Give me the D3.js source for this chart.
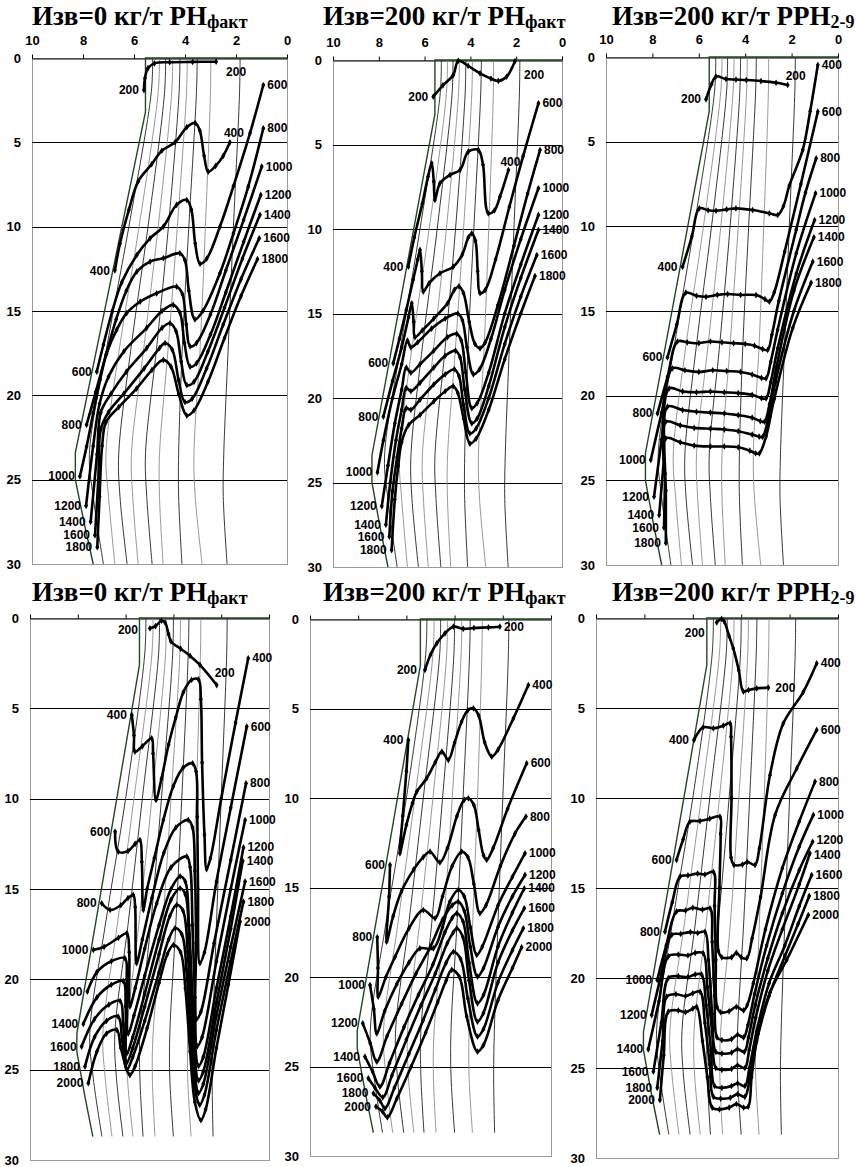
<!DOCTYPE html>
<html lang="ru">
<head>
<meta charset="UTF-8">
<title>Изв</title>
<style>
  body { margin: 0; background: #fff; }
  svg { display: block; }
  .ax { font-family: "Liberation Sans", Arial, sans-serif; font-weight: bold; font-size: 13px; }
  .lab { font-family: "Liberation Sans", Arial, sans-serif; font-weight: bold; font-size: 12px; }
  .ttl { font-family: "Liberation Serif", "Times New Roman", serif; font-weight: bold; font-size: 27px; }
</style>
</head>
<body>
<script src="https://cdn.jsdelivr.net/npm/d3@7"></script>
<script>
const W = 856, H = 1167;

const xTicks = [10, 8, 6, 4, 2, 0];
const yTicks = [0, 5, 10, 15, 20, 25, 30];
const levelsTop = [200, 400, 600, 800, 1000, 1200, 1400, 1600, 1800];
const levelsBottom = [200, 400, 600, 800, 1000, 1200, 1400, 1600, 1800, 2000];
const titles = [
  ['Изв=0 кг/т РН', 'факт'], ['Изв=200 кг/т РН', 'факт'], ['Изв=200 кг/т РРН', '2-9'],
  ['Изв=0 кг/т РН', 'факт'], ['Изв=200 кг/т РН', 'факт'], ['Изв=200 кг/т РРН', '2-9']
];

// boundary of the field (green) and thin isolines, top and bottom rows
const envTop = [[0,0],[5.55,0],[5.55,3.2],[8.3,23.4],[8.3,25.0],[7.95,27.6],[7.6,30]];
const envBottom = [[0,0],[5.42,0],[5.42,2.6],[8.04,23.0],[8.04,24.0],[7.7,26.5],[7.37,28.7]];
const isoDepthTop = [0, 2, 10, 17, 23.5, 26, 30];
const isoTop = [
  [5.27, 5.32, 6.2, 7.05, 7.75, 7.6, 7.2],
  [5.0, 5.05, 5.8, 6.55, 7.1, 7.0, 6.75],
  [4.76, 4.8, 5.45, 6.1, 6.6, 6.55, 6.27],
  [4.48, 4.52, 5.05, 5.6, 6.1, 6.05, 5.84],
  [4.2, 4.23, 4.65, 5.1, 5.55, 5.5, 5.29],
  [3.91, 3.94, 4.3, 4.65, 5.0, 5.0, 4.86],
  [3.52, 3.55, 3.85, 4.1, 4.25, 4.25, 4.12],
  [2.99, 3.0, 3.2, 3.4, 3.65, 3.6, 3.33],
  [1.84, 1.86, 2.1, 2.3, 2.48, 2.5, 2.35]
];
const isoDepthBottom = [0, 2, 10, 17, 23, 25.5, 28.7];
const isoBottom = [
  [5.15, 5.2, 6.0, 6.85, 7.5, 7.35, 6.99],
  [4.85, 4.9, 5.65, 6.35, 6.95, 6.85, 6.57],
  [4.58, 4.62, 5.3, 5.9, 6.45, 6.38, 6.11],
  [4.3, 4.33, 4.9, 5.45, 5.95, 5.92, 5.69],
  [4.0, 4.03, 4.5, 4.95, 5.4, 5.4, 5.27],
  [3.7, 3.73, 4.1, 4.45, 4.85, 4.88, 4.77],
  [3.35, 3.38, 3.65, 3.9, 4.15, 4.15, 4.0],
  [2.85, 2.87, 3.05, 3.25, 3.4, 3.4, 3.26],
  [1.75, 1.77, 2.0, 2.2, 2.35, 2.38, 2.34]
];

// thick curves, [x, depth] points, one array per level
const curvesA = [
  [[5.61,1.9],[5.57,1.2],[5.45,0.6],[5.2,0.32],[4.6,0.25],[3.7,0.23],[2.78,0.22]],
  [[6.75,12.6],[6.55,11.0],[6.2,9.0],[5.83,7.3],[5.31,6.3],[4.91,5.5],[4.39,5.0],[3.93,4.1],[3.6,3.85],[3.42,4.3],[3.25,5.8],[3.09,6.74],[2.8,6.4],[2.5,5.8],[2.24,5.0]],
  [[7.46,18.6],[7.2,17.0],[6.85,15.0],[6.48,13.3],[5.89,11.68],[5.37,10.69],[4.85,10.0],[4.33,8.71],[3.93,8.42],[3.75,9.0],[3.6,11.0],[3.41,12.2],[3.15,11.9],[2.63,10.0],[2.1,7.6],[1.45,4.46],[0.93,1.6]],
  [[7.86,21.75],[7.5,19.8],[7.1,17.6],[6.7,15.5],[6.3,13.8],[5.89,12.67],[5.37,12.07],[4.85,11.87],[4.2,11.58],[4.0,12.0],[3.85,13.8],[3.61,15.5],[3.3,15.0],[2.63,12.76],[2.1,10.4],[1.52,7.63],[0.93,4.17]],
  [[8.12,24.8],[7.86,23.04],[7.6,21.06],[7.33,19.09],[7.07,17.5],[6.68,16.12],[6.29,15.13],[5.76,14.45],[5.11,13.95],[4.33,13.56],[4.1,14.0],[3.95,15.8],[3.8,17.1],[3.55,16.9],[3.0,15.2],[2.4,12.6],[1.7,9.6],[0.99,6.44]],
  [[7.88,26.55],[7.6,23.0],[7.35,20.5],[7.0,18.9],[6.4,17.4],[5.5,16.0],[4.9,15.0],[4.46,14.64],[4.2,15.1],[4.02,16.9],[3.8,18.3],[3.55,18.1],[3.0,16.4],[2.4,13.9],[1.7,10.9],[1.03,8.12]],
  [[7.7,27.5],[7.45,23.5],[7.3,21.0],[6.9,19.9],[6.3,18.6],[5.5,17.2],[4.9,16.0],[4.59,15.73],[4.35,16.2],[4.15,18.0],[3.93,19.4],[3.65,19.2],[3.1,17.4],[2.45,14.8],[1.75,11.9],[1.06,9.3]],
  [[7.53,28.3],[7.4,25.0],[7.3,22.0],[7.0,21.0],[6.4,19.9],[5.6,18.4],[5.0,17.2],[4.78,16.9],[4.5,17.3],[4.25,19.1],[4.0,20.4],[3.72,20.2],[3.15,18.4],[2.5,15.8],[1.8,13.1],[1.09,10.69]],
  [[7.44,29.0],[7.35,26.0],[7.25,23.0],[7.1,21.6],[6.6,20.7],[5.9,19.6],[5.3,18.5],[4.85,17.9],[4.55,18.3],[4.25,19.9],[3.93,21.2],[3.65,20.9],[3.1,19.2],[2.45,16.6],[1.8,14.1],[1.16,11.93]]
];
const curvesB = [
  [[5.62,2.17],[5.2,1.5],[4.75,0.89],[4.53,0.05],[4.1,0.35],[3.58,0.79],[3.1,1.1],[2.78,1.24],[2.42,0.99],[2.05,0.06]],
  [[6.71,12.23],[6.45,10.5],[6.1,8.5],[5.85,6.9],[5.69,6.11],[5.6,7.2],[5.55,8.28],[5.33,7.3],[4.89,6.8],[4.45,6.5],[4.09,5.42],[3.65,5.33],[3.45,6.2],[3.22,9.07],[2.95,8.9],[2.71,8.09],[2.34,6.51]],
  [[7.37,17.95],[7.1,16.5],[6.8,14.8],[6.5,13.0],[6.3,11.8],[6.2,11.24],[6.12,12.5],[6.06,13.7],[5.8,13.2],[5.33,12.62],[4.75,12.23],[4.35,11.5],[4.09,10.5],[3.94,10.26],[3.78,10.7],[3.68,12.5],[3.58,13.8],[3.35,13.6],[2.9,11.8],[2.3,8.7],[1.7,5.7],[1.03,2.56]],
  [[7.8,21.1],[7.4,19.0],[7.0,17.0],[6.7,15.2],[6.56,14.4],[6.48,15.5],[6.42,16.4],[6.1,16.0],[5.6,15.3],[5.0,14.4],[4.7,13.6],[4.5,13.4],[4.3,13.8],[4.05,15.5],[3.8,16.8],[3.58,17.06],[3.35,16.7],[2.8,14.5],[2.1,11.0],[1.5,7.9],[0.96,5.33]],
  [[8.06,24.4],[7.8,22.5],[7.4,20.0],[7.0,18.0],[6.75,16.6],[6.6,17.0],[6.3,16.7],[5.7,15.9],[5.1,15.3],[4.55,15.0],[4.35,15.4],[4.15,17.0],[3.87,18.6],[3.6,18.3],[3.1,16.5],[2.5,13.6],[1.8,10.6],[1.03,7.59]],
  [[7.87,26.4],[7.6,24.0],[7.3,21.5],[7.0,19.5],[6.8,18.2],[6.6,18.5],[6.2,18.0],[5.6,17.2],[5.0,16.4],[4.6,16.2],[4.4,16.6],[4.2,18.5],[3.94,20.6],[3.7,20.3],[3.2,18.5],[2.5,15.0],[1.8,12.1],[1.03,9.17]],
  [[7.69,27.5],[7.5,25.0],[7.25,22.5],[7.0,20.7],[6.8,19.4],[6.6,19.6],[6.2,19.1],[5.6,18.2],[5.1,17.5],[4.65,17.2],[4.45,17.6],[4.25,19.5],[3.94,21.5],[3.7,21.2],[3.2,19.3],[2.5,15.8],[1.8,12.9],[1.03,10.06]],
  [[7.54,28.2],[7.4,25.5],[7.2,23.5],[7.0,21.8],[6.8,20.6],[6.6,20.7],[6.2,20.1],[5.6,19.2],[5.1,18.6],[4.7,18.3],[4.5,18.7],[4.3,20.4],[4.02,22.1],[3.75,21.8],[3.2,20.0],[2.5,16.8],[1.8,14.0],[1.1,11.54]],
  [[7.44,29.0],[7.3,26.0],[7.15,24.0],[7.0,22.6],[6.7,21.6],[6.2,21.0],[5.6,20.2],[5.1,19.6],[4.75,19.3],[4.55,19.7],[4.3,21.2],[4.02,22.7],[3.75,22.4],[3.2,20.7],[2.5,17.7],[1.8,15.0],[1.18,12.78]]
];
const curvesC = [
  [[5.69,2.5],[5.45,1.6],[5.26,1.15],[4.83,1.3],[4.4,1.33],[3.95,1.36],[3.32,1.42],[2.67,1.52],[2.17,1.65]],
  [[6.7,12.39],[6.3,10.6],[5.98,8.94],[5.6,9.05],[5.26,9.08],[4.8,9.0],[4.4,8.94],[3.68,9.04],[2.96,9.23],[2.6,9.33],[2.35,8.8],[2.1,7.6],[1.52,5.49],[1.2,3.2],[0.87,0.47]],
  [[7.35,17.74],[6.95,15.8],[6.56,13.92],[6.1,14.1],[5.69,14.16],[5.2,14.05],[4.76,14.0],[4.2,14.05],[3.53,14.06],[3.15,14.3],[2.96,14.45],[2.75,13.9],[2.3,11.5],[1.6,7.5],[0.87,3.23]],
  [[7.78,21.05],[7.35,18.9],[6.92,16.8],[6.5,16.85],[6.0,16.9],[5.5,16.8],[5.0,16.85],[4.5,16.9],[4.0,16.95],[3.6,17.05],[3.25,17.25],[3.03,17.3],[2.85,16.4],[2.55,14.4],[1.8,10.2],[1.4,8.0],[0.94,5.98]],
  [[8.07,23.8],[7.6,21.0],[7.14,18.39],[6.6,18.5],[6.0,18.6],[5.4,18.5],[4.8,18.55],[4.2,18.6],[3.7,18.75],[3.3,18.95],[3.1,18.98],[2.9,18.0],[2.6,16.1],[1.8,11.6],[0.97,8.05]],
  [[7.93,25.97],[7.6,22.6],[7.28,19.57],[6.7,19.75],[6.1,19.8],[5.5,19.75],[4.9,19.8],[4.3,19.85],[3.7,19.95],[3.3,20.15],[3.1,20.16],[2.9,19.2],[2.6,17.2],[1.8,12.8],[1.01,9.63]],
  [[7.71,27.05],[7.5,23.7],[7.35,20.65],[6.7,20.85],[6.1,20.95],[5.5,21.0],[4.9,21.05],[4.3,21.15],[3.7,21.3],[3.35,21.5],[3.17,21.54],[2.95,20.5],[2.65,18.3],[1.9,13.8],[1.04,10.65]],
  [[7.5,27.8],[7.45,24.6],[7.42,21.54],[6.8,21.75],[6.2,21.9],[5.5,21.95],[4.9,22.0],[4.3,22.1],[3.7,22.3],[3.4,22.42],[3.25,22.43],[3.0,21.3],[2.7,19.2],[1.9,15.0],[1.09,12.09]],
  [[7.42,28.7],[7.42,25.6],[7.42,22.52],[6.8,22.75],[6.2,22.95],[5.5,23.0],[4.9,23.0],[4.3,23.05],[3.8,23.25],[3.55,23.4],[3.39,23.41],[3.1,22.4],[2.75,20.2],[1.95,16.0],[1.16,13.33]]
];
const curvesD = [
  [[4.98,0.57],[4.75,0.45],[4.5,0.15],[4.35,0.25],[4.2,0.9],[4.1,1.3],[3.7,1.7],[3.3,2.1],[2.89,2.6],[2.19,3.71]],
  [[5.74,5.37],[5.65,6.5],[5.61,7.4],[5.3,7.1],[4.91,6.66],[4.85,7.5],[4.73,10.07],[4.5,8.9],[4.2,7.0],[3.9,5.5],[3.58,4.1],[3.24,3.43],[2.95,3.4],[2.85,4.5],[2.8,8.0],[2.7,12.0],[2.61,13.9],[2.45,13.3],[2.0,10.0],[1.4,5.8],[0.87,2.23]],
  [[6.44,11.83],[6.31,12.93],[5.9,12.9],[5.6,12.5],[5.4,12.29],[5.32,13.5],[5.26,16.16],[5.1,15.0],[4.8,13.3],[4.42,11.18],[4.0,9.3],[3.6,8.3],[3.2,8.04],[3.05,8.5],[3.0,11.0],[2.97,15.0],[2.89,19.1],[2.7,18.5],[2.2,14.6],[1.6,10.5],[0.93,6.01]],
  [[7.0,15.79],[6.65,16.16],[6.2,15.9],[5.9,15.5],[5.68,15.33],[5.6,16.0],[5.54,19.1],[5.3,17.8],[4.9,15.5],[4.4,13.0],[3.9,11.6],[3.38,11.18],[3.2,11.6],[3.1,14.0],[3.05,18.0],[3.03,22.2],[2.85,21.8],[2.3,18.0],[1.6,13.4],[0.96,9.15]],
  [[7.35,18.37],[6.9,18.2],[6.3,17.7],[5.95,17.45],[5.85,18.5],[5.82,21.5],[5.6,20.5],[5.2,18.3],[4.7,15.8],[4.1,13.8],[3.44,13.2],[3.3,13.8],[3.2,17.0],[3.1,21.0],[3.0,23.7],[2.8,23.2],[2.2,19.0],[1.6,15.0],[1.0,11.18]],
  [[7.6,20.68],[7.2,19.6],[6.6,19.0],[6.03,18.83],[5.95,20.0],[5.89,23.0],[5.65,22.0],[5.2,19.8],[4.6,17.0],[4.1,15.0],[3.72,14.3],[3.5,14.6],[3.35,17.0],[3.2,21.0],[3.1,23.5],[2.95,24.8],[2.75,24.3],[2.2,20.5],[1.6,16.5],[1.07,12.7]],
  [[7.77,22.47],[7.2,21.0],[6.6,20.3],[6.1,20.1],[6.0,21.5],[5.95,24.1],[5.7,23.2],[5.2,20.8],[4.6,17.8],[4.1,15.6],[3.72,14.96],[3.5,15.3],[3.35,17.5],[3.2,22.0],[3.1,24.5],[2.95,25.6],[2.75,25.1],[2.2,21.3],[1.6,17.2],[1.1,13.45]],
  [[7.84,23.72],[7.3,22.2],[6.7,21.4],[6.23,21.2],[6.1,22.5],[5.95,24.6],[5.7,23.8],[5.2,21.5],[4.6,18.6],[4.15,16.5],[3.86,15.88],[3.6,16.2],[3.4,18.5],[3.25,22.5],[3.1,25.3],[2.95,26.3],[2.75,25.8],[2.2,22.0],[1.6,18.2],[1.0,14.59]],
  [[7.7,24.83],[7.3,23.2],[6.8,22.3],[6.31,22.06],[6.15,23.3],[5.95,25.0],[5.7,24.3],[5.2,22.3],[4.6,19.6],[4.2,17.8],[3.93,17.17],[3.65,17.5],[3.45,19.5],[3.3,23.0],[3.1,26.0],[2.9,26.95],[2.7,26.4],[2.2,22.8],[1.6,19.0],[1.07,15.7]],
  [[7.56,25.75],[7.2,24.0],[6.8,23.0],[6.37,22.8],[6.2,23.8],[5.82,25.3],[5.6,24.8],[5.1,22.7],[4.6,20.2],[4.25,18.6],[4.0,18.1],[3.7,18.5],[3.5,20.5],[3.3,24.0],[3.1,26.8],[2.85,27.8],[2.65,27.2],[2.2,23.8],[1.7,20.3],[1.21,16.8]]
];
const curvesE = [
  [[5.23,2.85],[5.0,2.0],[4.74,1.36],[4.4,0.8],[4.05,0.43],[3.64,0.55],[3.2,0.5],[2.6,0.47],[2.12,0.43]],
  [[5.92,6.76],[6.0,8.5],[6.15,11.0],[6.27,13.09],[6.0,11.5],[5.75,10.3],[5.57,9.65],[5.16,8.9],[4.8,8.0],[4.53,7.41],[4.26,7.88],[4.0,6.9],[3.71,5.74],[3.45,5.1],[3.22,4.99],[3.0,5.4],[2.75,6.9],[2.46,7.69],[2.2,7.3],[1.56,5.55],[0.94,3.69]],
  [[6.68,13.74],[6.72,15.5],[6.82,18.03],[6.55,16.6],[6.2,15.2],[5.7,14.0],[5.3,13.3],[5.02,13.0],[4.61,13.6],[4.3,12.8],[3.9,11.0],[3.6,10.1],[3.43,10.02],[3.2,10.4],[3.0,11.8],[2.8,13.2],[2.67,13.46],[2.4,12.8],[1.8,10.6],[1.01,8.06]],
  [[7.21,17.78],[7.18,19.5],[7.17,21.1],[6.85,20.0],[6.47,18.87],[5.9,17.3],[5.3,16.26],[4.81,16.72],[4.5,15.5],[4.1,13.8],[3.71,13.0],[3.45,13.3],[3.2,14.8],[2.95,16.44],[2.7,16.0],[2.1,13.8],[1.5,12.0],[1.04,11.04]],
  [[7.51,20.45],[7.35,21.8],[7.23,23.15],[6.9,21.9],[6.4,20.4],[5.9,19.2],[5.44,18.4],[4.88,18.4],[4.5,17.2],[4.2,15.8],[3.85,15.14],[3.6,15.5],[3.35,17.2],[3.08,18.77],[2.85,18.3],[2.2,16.0],[1.6,14.4],[1.08,13.09]],
  [[7.81,22.59],[7.5,23.7],[7.23,24.73],[6.8,23.3],[6.2,21.5],[5.6,19.8],[5.0,18.3],[4.5,16.8],[4.1,16.0],[3.85,15.79],[3.6,16.3],[3.35,18.3],[3.05,19.98],[2.8,19.5],[2.2,17.2],[1.6,15.5],[1.08,14.3]],
  [[7.72,24.45],[7.4,25.3],[7.1,26.13],[6.7,24.8],[6.1,22.8],[5.5,21.0],[4.9,19.3],[4.4,17.5],[4.1,16.7],[3.91,16.44],[3.65,16.9],[3.4,19.2],[3.05,21.47],[2.8,21.0],[2.2,18.3],[1.6,16.4],[1.11,15.05]],
  [[7.58,25.66],[7.3,26.2],[6.98,26.72],[6.6,25.5],[6.0,23.5],[5.4,21.6],[4.8,19.8],[4.3,18.1],[4.05,17.5],[3.91,17.28],[3.65,17.8],[3.4,20.2],[3.05,22.5],[2.8,22.0],[2.2,19.2],[1.6,17.4],[1.11,16.16]],
  [[7.37,26.5],[7.1,26.9],[6.89,27.34],[6.5,26.2],[5.9,24.3],[5.3,22.4],[4.8,20.7],[4.35,19.2],[4.05,18.59],[3.75,19.0],[3.45,21.2],[3.05,23.33],[2.8,22.9],[2.2,20.3],[1.6,18.5],[1.15,17.28]],
  [[7.26,27.24],[7.0,27.5],[6.79,27.84],[6.4,26.8],[5.8,25.0],[5.2,23.1],[4.7,21.4],[4.35,20.2],[4.12,19.6],[3.8,20.0],[3.5,22.2],[3.05,24.17],[2.8,23.8],[2.2,21.3],[1.6,19.5],[1.22,18.34]]
];
const curvesF = [
  [[5.01,0.24],[4.81,0.05],[4.7,0.2],[4.5,1.0],[4.33,1.68],[4.1,2.9],[3.91,4.09],[3.7,4.0],[3.36,3.91],[2.88,3.87]],
  [[5.95,6.78],[5.57,6.07],[5.15,6.13],[4.74,5.98],[4.46,5.85],[4.42,6.6],[4.4,10.0],[4.42,13.3],[4.3,13.72],[3.95,13.7],[3.75,13.55],[3.43,13.72],[3.25,12.8],[2.81,8.72],[2.26,5.85],[1.43,4.1],[0.88,2.52]],
  [[6.67,13.44],[6.4,12.3],[6.12,11.32],[5.7,11.28],[5.3,11.15],[4.88,11.04],[4.85,12.0],[4.9,15.0],[4.94,18.5],[4.8,18.85],[4.4,18.85],[4.2,18.6],[4.0,18.85],[3.77,18.91],[3.55,17.8],[3.2,15.5],[2.6,10.94],[1.7,8.35],[0.88,6.22]],
  [[7.15,17.43],[6.85,15.8],[6.53,14.37],[6.2,14.3],[5.8,14.2],[5.5,14.25],[5.15,14.1],[5.1,16.0],[5.05,19.0],[5.0,21.6],[4.85,21.9],[4.5,21.85],[4.2,21.6],[3.9,21.8],[3.75,21.5],[3.5,20.3],[3.0,17.3],[2.3,13.9],[1.6,11.3],[0.95,9.09]],
  [[7.47,20.11],[7.1,18.2],[6.67,16.3],[6.3,16.25],[6.0,16.1],[5.6,16.2],[5.29,16.13],[5.2,18.0],[5.1,21.0],[5.0,23.3],[4.8,23.45],[4.4,23.4],[4.15,23.15],[3.9,23.3],[3.72,22.6],[3.45,20.9],[2.95,18.2],[2.3,15.3],[1.6,12.7],[1.02,10.94]],
  [[7.7,22.06],[7.3,19.8],[6.87,17.6],[6.5,17.55],[6.1,17.45],[5.8,17.5],[5.5,17.43],[5.35,19.0],[5.2,22.0],[5.05,24.1],[4.8,24.2],[4.4,24.15],[4.15,23.95],[3.87,24.1],[3.7,23.3],[3.42,21.5],[2.9,18.9],[2.3,16.4],[1.6,14.0],[1.05,12.43]],
  [[7.84,23.96],[7.4,21.3],[7.01,18.8],[6.6,18.7],[6.2,18.75],[5.9,18.6],[5.57,18.63],[5.4,20.5],[5.2,23.0],[5.05,25.0],[4.8,25.1],[4.4,25.05],[4.15,24.85],[3.85,25.0],[3.67,24.0],[3.4,22.2],[2.9,19.6],[2.3,17.3],[1.6,14.8],[1.16,13.07]],
  [[7.63,25.2],[7.3,22.5],[7.01,20.0],[6.6,19.9],[6.2,19.95],[5.9,19.8],[5.64,19.8],[5.45,21.5],[5.25,24.0],[5.1,26.0],[4.8,26.1],[4.4,26.0],[4.15,25.85],[3.85,26.0],[3.66,25.0],[3.37,23.0],[2.85,20.3],[2.2,18.2],[1.6,16.0],[1.09,14.28]],
  [[7.47,26.1],[7.25,23.5],[7.08,21.04],[6.7,20.9],[6.3,21.0],[6.0,20.85],[5.7,20.76],[5.5,22.5],[5.3,24.8],[5.15,26.6],[4.85,26.7],[4.45,26.65],[4.15,26.45],[3.85,26.6],[3.64,25.5],[3.36,23.5],[2.85,21.0],[2.2,18.8],[1.65,17.0],[1.19,15.44]],
  [[7.36,26.78],[7.2,24.3],[7.01,21.87],[6.6,21.8],[6.3,21.9],[6.0,21.7],[5.84,21.6],[5.6,23.5],[5.4,25.5],[5.2,27.2],[4.9,27.3],[4.5,27.2],[4.2,27.0],[3.9,27.2],[3.71,27.15],[3.57,25.5],[3.3,23.07],[2.81,20.8],[2.12,19.0],[1.23,16.5]]
];

// label nudges (dx, dy) for end labels that sit off the default spot
const nudge = {
  A200R: [6, 10], A400R: [-10, -9],
  B200R: [5, 14], B400R: [-12, -8],
  C200R: [-6, -9],
  D200R: [-6, -12], D200L: [-7, 2],
  E200L: [-3, 0],
  F200L: [-7, 11], F200R: [3, 0], F1200R: [0, -2], F1400R: [0, 2]
};

const panels = [
  { id: 'A', curves: curvesA, levels: levelsTop, env: envTop, iso: isoTop, depth: isoDepthTop, left: 32, right: 287, top: 58, bottom: 564, tx: 32, ty: 25, xLabels: true },
  { id: 'B', curves: curvesB, levels: levelsTop, env: envTop, iso: isoTop, depth: isoDepthTop, left: 333, right: 562, top: 60, bottom: 567, tx: 323, ty: 25, xLabels: true },
  { id: 'C', curves: curvesC, levels: levelsTop, env: envTop, iso: isoTop, depth: isoDepthTop, left: 606, right: 838, top: 57, bottom: 565, tx: 612, ty: 25, xLabels: true },
  { id: 'D', curves: curvesD, levels: levelsBottom, env: envBottom, iso: isoBottom, depth: isoDepthBottom, left: 30, right: 269, top: 618, bottom: 1160, tx: 32, ty: 601, xLabels: false },
  { id: 'E', curves: curvesE, levels: levelsBottom, env: envBottom, iso: isoBottom, depth: isoDepthBottom, left: 310, right: 551, top: 619, bottom: 1156, tx: 323, ty: 601, xLabels: false },
  { id: 'F', curves: curvesF, levels: levelsBottom, env: envBottom, iso: isoBottom, depth: isoDepthBottom, left: 596, right: 838, top: 618, bottom: 1158, tx: 612, ty: 601, xLabels: false }
];

const svg = d3.select('body').append('svg').attr('width', W).attr('height', H);
const diamond = d3.symbol().type(d3.symbolDiamond).size(13);

panels.forEach((p, i) => {
  const x = d3.scaleLinear().domain([10, 0]).range([p.left, p.right]);
  const y = d3.scaleLinear().domain([0, 30]).range([p.top, p.bottom]);
  const g = svg.append('g');

  // title
  const t = g.append('text').attr('class', 'ttl').attr('x', p.tx).attr('y', p.ty).text(titles[i][0]);
  t.append('tspan').attr('font-size', 18).attr('dy', 3).text(titles[i][1]);

  // frame and grid
  g.append('rect')
    .attr('x', p.left + 0.5).attr('y', p.top + 0.5)
    .attr('width', p.right - p.left).attr('height', p.bottom - p.top)
    .attr('fill', 'none').attr('stroke', '#9a9a9a');
  g.selectAll('line.grid').data(yTicks.filter(v => v > 0 && v < 30)).join('line')
    .attr('class', 'grid')
    .attr('x1', p.left).attr('x2', p.right)
    .attr('y1', d => Math.round(y(d)) + 0.5).attr('y2', d => Math.round(y(d)) + 0.5)
    .attr('stroke', '#000');

  // axes
  const ax = d3.axisTop(x).tickValues(xTicks).tickSize(4).tickSizeOuter(0).tickPadding(10)
    .tickFormat(p.xLabels ? d3.format('d') : () => '');
  const gx = g.append('g').attr('transform', `translate(0,${p.top + 0.5})`).call(ax);
  const ay = d3.axisLeft(y).tickValues(yTicks).tickSize(0).tickPadding(11);
  const gy = g.append('g').attr('transform', `translate(${p.left},0)`).call(ay);
  gy.select('.domain').remove();
  [gx, gy].forEach(a => a.selectAll('text').attr('class', 'ax').attr('font-family', null).attr('font-size', null).attr('fill', '#000'));

  // thin isolines
  const iso = d3.line().x(d => x(d[0])).y(d => y(d[1])).curve(d3.curveCatmullRom.alpha(0.5));
  g.selectAll('path.iso').data(p.iso).join('path')
    .attr('class', 'iso')
    .attr('d', row => iso(row.map((v, k) => [v, p.depth[k]])))
    .attr('fill', 'none')
    .attr('stroke', (d, k) => k % 2 ? '#8c8c8c' : '#222')
    .attr('stroke-width', 0.9);

  // boundary
  g.append('path')
    .attr('d', d3.line().x(d => x(d[0])).y(d => y(d[1]))(p.env))
    .attr('fill', 'none').attr('stroke', '#1f4a1f').attr('stroke-width', 1.4);

  // thick curves
  const line = d3.line().x(d => x(d[0])).y(d => y(d[1])).curve(d3.curveCatmullRom.alpha(0.5));
  p.curves.forEach((pts, k) => {
    const lev = p.levels[k];
    g.append('path').attr('d', line(pts))
      .attr('fill', 'none').attr('stroke', '#000').attr('stroke-width', 2.6)
      .attr('stroke-linejoin', 'round').attr('stroke-linecap', 'round');
    g.selectAll(null).data(pts).join('path')
      .attr('d', diamond)
      .attr('transform', d => `translate(${x(d[0])},${y(d[1])})`)
      .attr('fill', '#000');

    const a = pts[0], b = pts[pts.length - 1];
    const nl = nudge[p.id + lev + 'L'] || [0, 0];
    const nr = nudge[p.id + lev + 'R'] || [0, 0];
    g.append('text').attr('class', 'lab').attr('text-anchor', 'end')
      .attr('x', x(a[0]) - 5 + nl[0]).attr('y', y(a[1]) + 4 + nl[1]).text(lev);
    g.append('text').attr('class', 'lab').attr('text-anchor', 'start')
      .attr('x', x(b[0]) + 4 + nr[0]).attr('y', y(b[1]) + 4 + nr[1]).text(lev);
  });
});
</script>
</body>
</html>
